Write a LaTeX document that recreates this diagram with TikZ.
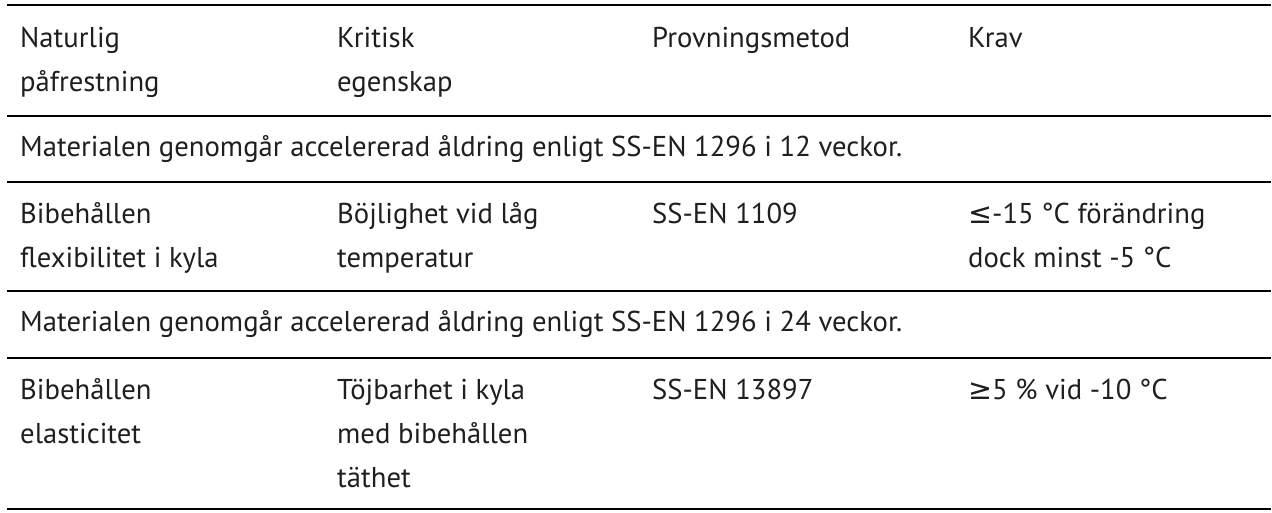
\documentclass[tikz,border=0pt]{standalone}
\usepackage{fontspec}
\setmainfont{PT Sans}
\newfontfamily\symfont{DejaVu Sans}
\definecolor{txt}{RGB}{32,30,30}
\newlength\reflen
\begin{document}
\settowidth\reflen{\fontsize{10pt}{12pt}\selectfont Materialen genomgår accelererad åldring enligt SS-EN 1296 i 12 veckor.}%
\pgfmathsetmacro\fsz{10*882/\reflen}%
\begin{tikzpicture}[x=1pt,y=-1pt]
\tikzset{
  cell/.style={anchor=base west, inner sep=0pt, text=txt, font=\fontsize{\fsz pt}{\fsz pt}\selectfont},
  hrule/.style={line width=2.3pt, black}
}
\useasboundingbox (0,0) rectangle (1272,512);
% rules
\draw[hrule] (7,5.3) -- (1271,5.3);
\draw[hrule] (7,115.7) -- (1271,115.7);
\draw[hrule] (7,181.7) -- (1271,181.7);
\draw[hrule] (7,290.7) -- (1271,290.7);
\draw[hrule] (7,357.7) -- (1271,357.7);
\draw[hrule] (7,509) -- (1271,509);
% header
\node[cell] (h1a) at (20,47) {Naturlig};
\node[cell] (h1b) at (20,91) {påfrestning};
\node[cell] (h2a) at (337,47) {Kritisk};
\node[cell] (h2b) at (337,91) {egenskap};
\node[cell] (h3a) at (652,47) {Provningsmetod};
\node[cell] (h4a) at (968,47) {Krav};
% span row 1
\node[cell] (m1) at (20,156) {Materialen genomgår accelererad åldring enligt SS-EN 1296 i 12 veckor.};
% row 2
\node[cell] (r1a) at (20,223) {Bibehållen};
\node[cell] (r1b) at (20,267) {flexibilitet i kyla};
\node[cell] (r1c) at (337,223) {Böjlighet vid låg};
\node[cell] (r1d) at (337,267) {temperatur};
\node[cell] (r1e) at (652,223) {SS-EN 1109};
\node[cell] (r1f) at (968,223) {{\symfont ≤}-15 °C förändring};
\node[cell] (r1g) at (968,267) {dock minst -5 °C};
% span row 2
\node[cell] (m2) at (20,331) {Materialen genomgår accelererad åldring enligt SS-EN 1296 i 24 veckor.};
% row 3
\node[cell] (r2a) at (20,399) {Bibehållen};
\node[cell] (r2b) at (20,443) {elasticitet};
\node[cell] (r2c) at (337,399) {Töjbarhet i kyla};
\node[cell] (r2d) at (337,443) {med bibehållen};
\node[cell] (r2e) at (337,487) {täthet};
\node[cell] (r2f) at (652,399) {SS-EN 13897};
\node[cell] (r2g) at (968,399) {{\symfont ≥}5 \% vid -10 °C};
\end{tikzpicture}
\end{document}
